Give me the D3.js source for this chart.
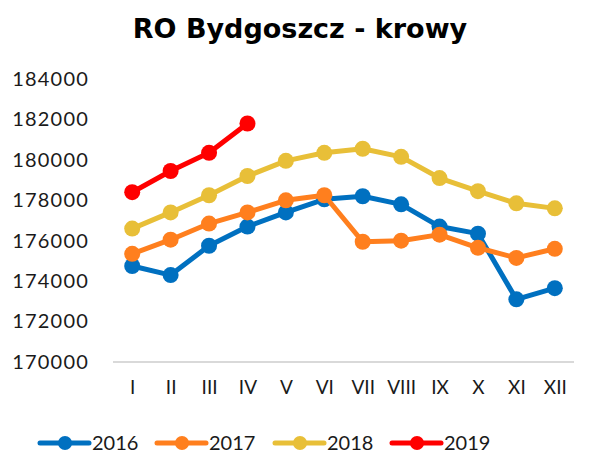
<!DOCTYPE html>
<html>
<head>
<meta charset="utf-8">
<script src="https://cdn.jsdelivr.net/npm/d3@7"></script>
<style>
  body { margin: 0; background: #fff; }
  text { font-family: Lato, "Open Sans", sans-serif; fill: #1a1a1a; }
</style>
</head>
<body>
<div id="chart"></div>
<script>
// months
var months = ['I', 'II', 'III', 'IV', 'V', 'VI', 'VII', 'VIII', 'IX', 'X', 'XI', 'XII'];
var yTicks = [170000, 172000, 174000, 176000, 178000, 180000, 182000, 184000];

// values per year
var v2016 = [174750, 174300, 175750, 176700, 177400, 178050, 178200, 177800, 176700, 176350, 173100, 173650];
var v2017 = [175350, 176050, 176850, 177400, 178000, 178250, 175950, 176000, 176300, 175650, 175150, 175600];
var v2018 = [176600, 177400, 178250, 179200, 179950, 180350, 180550, 180150, 179100, 178450, 177850, 177600];
var v2019 = [178400, 179450, 180350, 181800];

var seriesNames = ['2016', '2017', '2018', '2019'];
var seriesColors = ['#0070c0', '#ff7f1e', '#e8bf38', '#ff0000'];
var seriesValues = [v2016, v2017, v2018, v2019];

var width = 594, height = 457;
var plotLeft = 113, plotRight = 574, plotTop = 79, plotBottom = 362;

var svg = d3.select('#chart').append('svg')
    .attr('width', width)
    .attr('height', height);

svg.append('text')
    .attr('x', 300)
    .attr('y', 38)
    .attr('text-anchor', 'middle')
    .style('font-family', '"DejaVu Sans", sans-serif')
    .style('font-size', '27px')
    .style('font-weight', 'bold')
    .style('fill', '#000')
    .text('RO Bydgoszcz - krowy');

var x = d3.scalePoint().domain(months).range([plotLeft, plotRight]).padding(0.5);
var y = d3.scaleLinear().domain([170000, 184000]).range([plotBottom, plotTop]);

//y labels, no gridlines
svg.append('g')
    .attr('transform', 'translate(' + plotLeft + ',0)')
    .call(d3.axisLeft(y).tickValues(yTicks).tickSize(0).tickPadding(24).tickFormat(d3.format('d')))
    .call(function(g) { g.select('.domain').remove(); })
    .selectAll('text')
    .style('font-size', '20px')
    .style('letter-spacing', '1.2px')
    .style('fill', '#1a1a1a');

svg.append('g')
    .attr('transform', 'translate(0,' + plotBottom + ')')
    .call(d3.axisBottom(x).tickSize(0).tickPadding(19))
    .call(function(g) {
        g.select('.domain').attr('stroke', '#d9d9d9').attr('stroke-width', 2)
            .attr('d', 'M' + plotLeft + ',0H' + plotRight);
    })
    .selectAll('text')
    .style('font-size', '19px')
    .style('fill', '#1a1a1a');

var line = d3.line()
    .x(function(d, i) { return x(months[i]); })
    .y(function(d) { return y(d); });

seriesValues.forEach(function(vals, s) {
    var g = svg.append('g');
    g.append('path')
        .datum(vals)
        .attr('fill', 'none')
        .attr('stroke', seriesColors[s])
        .attr('stroke-width', 5)
        .attr('stroke-linejoin', 'round')
        .attr('d', line);
    g.selectAll('circle').data(vals)
        .enter().append('circle')
        .attr('cx', function(d, i) { return x(months[i]); })
        .attr('cy', function(d) { return y(d); })
        .attr('r', 8)
        .attr('fill', seriesColors[s]);
});

// legend
var legendX = [40, 157, 275, 392];
var legend = svg.append('g');
seriesNames.forEach(function(name, s) {
    var lx = legendX[s], ly = 443;
    legend.append('line')
        .attr('x1', lx).attr('x2', lx + 49)
        .attr('y1', ly).attr('y2', ly)
        .attr('stroke', seriesColors[s])
        .attr('stroke-width', 5)
        .attr('stroke-linecap', 'round');
    legend.append('circle')
        .attr('cx', lx + 25).attr('cy', ly).attr('r', 7)
        .attr('fill', seriesColors[s]);
    legend.append('text')
        .attr('x', lx + 52).attr('y', ly + 7)
        .style('font-size', '20px')
        .text(name);
});
</script>
</body>
</html>
